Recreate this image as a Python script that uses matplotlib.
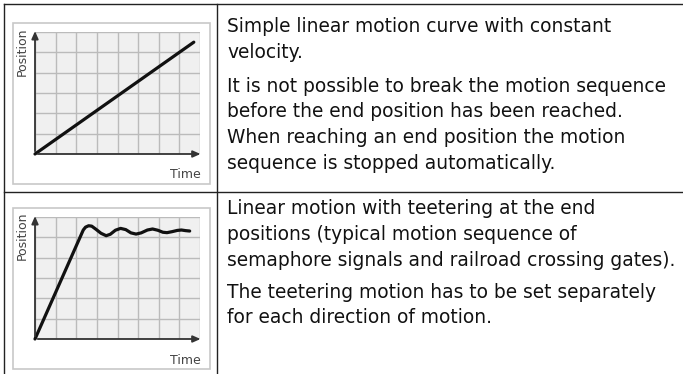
import matplotlib
import matplotlib.pyplot as plt
from matplotlib.patches import Rectangle
from matplotlib.lines import Line2D

matplotlib.use("Agg")

W, H = 683, 374

# motion curves (time units on an 8x6 grid)
linear_t = [0.0, 7.7]
linear_pos = [0.0, 5.5]

teeter_t = [0.0, 2.34, 2.45, 2.6, 2.75, 2.95, 3.2, 3.45, 3.65, 3.9, 4.15, 4.4, 4.65,
            4.9, 5.15, 5.45, 5.7, 5.95, 6.2, 6.4, 6.65, 6.9, 7.1, 7.3, 7.5]
teeter_pos = [0.0, 5.36, 5.5, 5.57, 5.55, 5.4, 5.2, 5.08, 5.15, 5.35, 5.44, 5.38, 5.22,
              5.16, 5.22, 5.36, 5.41, 5.35, 5.25, 5.23, 5.28, 5.34, 5.36, 5.33, 5.31]

row1_text = [
    ["Simple linear motion curve with constant", "velocity."],
    ["It is not possible to break the motion sequence",
     "before the end position has been reached.",
     "When reaching an end position the motion",
     "sequence is stopped automatically."],
]
row2_text = [
    ["Linear motion with teetering at the end",
     "positions (typical motion sequence of",
     "semaphore signals and railroad crossing gates)."],
    ["The teetering motion has to be set separately",
     "for each direction of motion."],
]

fig = plt.figure(figsize=(W / 100, H / 100), dpi=100)
fig.patch.set_facecolor("white")


def fx(px):
    return px / W


def fy(py):
    return 1 - py / H


# table rules
for (x0, y0, x1, y1) in [(4, 4, W, 4), (4, 4, 4, H), (217, 4, 217, H), (4, 192, W, 192)]:
    fig.add_artist(Line2D([fx(x0), fx(x1)], [fy(y0), fy(y1)], color="#222222",
                          lw=1.0, zorder=-2))


def draw_chart(top, t, pos):
    # light panel behind the chart
    fig.add_artist(Rectangle((fx(13), fy(top + 161)), fx(197), 161 / H,
                             facecolor="white", edgecolor="#c8c8c8", lw=1.2, zorder=-1))
    ax = fig.add_axes([fx(35), fy(top + 131), fx(165), 122 / H])
    ax.set_facecolor("#f0f0f0")
    ax.set_xlim(0, 8)
    ax.set_ylim(0, 6)
    ax.set_xticks(range(9))
    ax.set_yticks(range(7))
    ax.grid(True, color="#bbbbbb", lw=1.0)
    ax.tick_params(length=0, labelbottom=False, labelleft=False)
    for s in ax.spines.values():
        s.set_visible(False)
    ax.plot(t, pos, color="#111111", lw=2.3, solid_capstyle="round",
            solid_joinstyle="round", clip_on=False)
    arrow = dict(arrowstyle="-|>,head_length=0.45,head_width=0.2", color="#333333", lw=1.3)
    ax.annotate("", xy=(0, 1.03), xytext=(0, 0), xycoords="axes fraction", arrowprops=arrow)
    ax.annotate("", xy=(1.02, 0), xytext=(0, 0), xycoords="axes fraction", arrowprops=arrow)
    fig.text(fx(22), fy(top + 4), "Position", rotation=90, ha="center", va="top",
             fontsize=9, color="#444444")
    fig.text(fx(201), fy(top + 152), "Time", ha="right", va="center",
             fontsize=9, color="#444444")


def draw_text(paragraphs, tops):
    for lines, top in zip(paragraphs, tops):
        for i, line in enumerate(lines):
            fig.text(fx(227), fy(top + i * 25.8), line, ha="left", va="center",
                     fontsize=13.4, color="#111111")


draw_chart(23, linear_t, linear_pos)
draw_chart(208, teeter_t, teeter_pos)
draw_text(row1_text, [27, 86])
draw_text(row2_text, [209, 292])

fig.savefig("out.png", dpi=100)
